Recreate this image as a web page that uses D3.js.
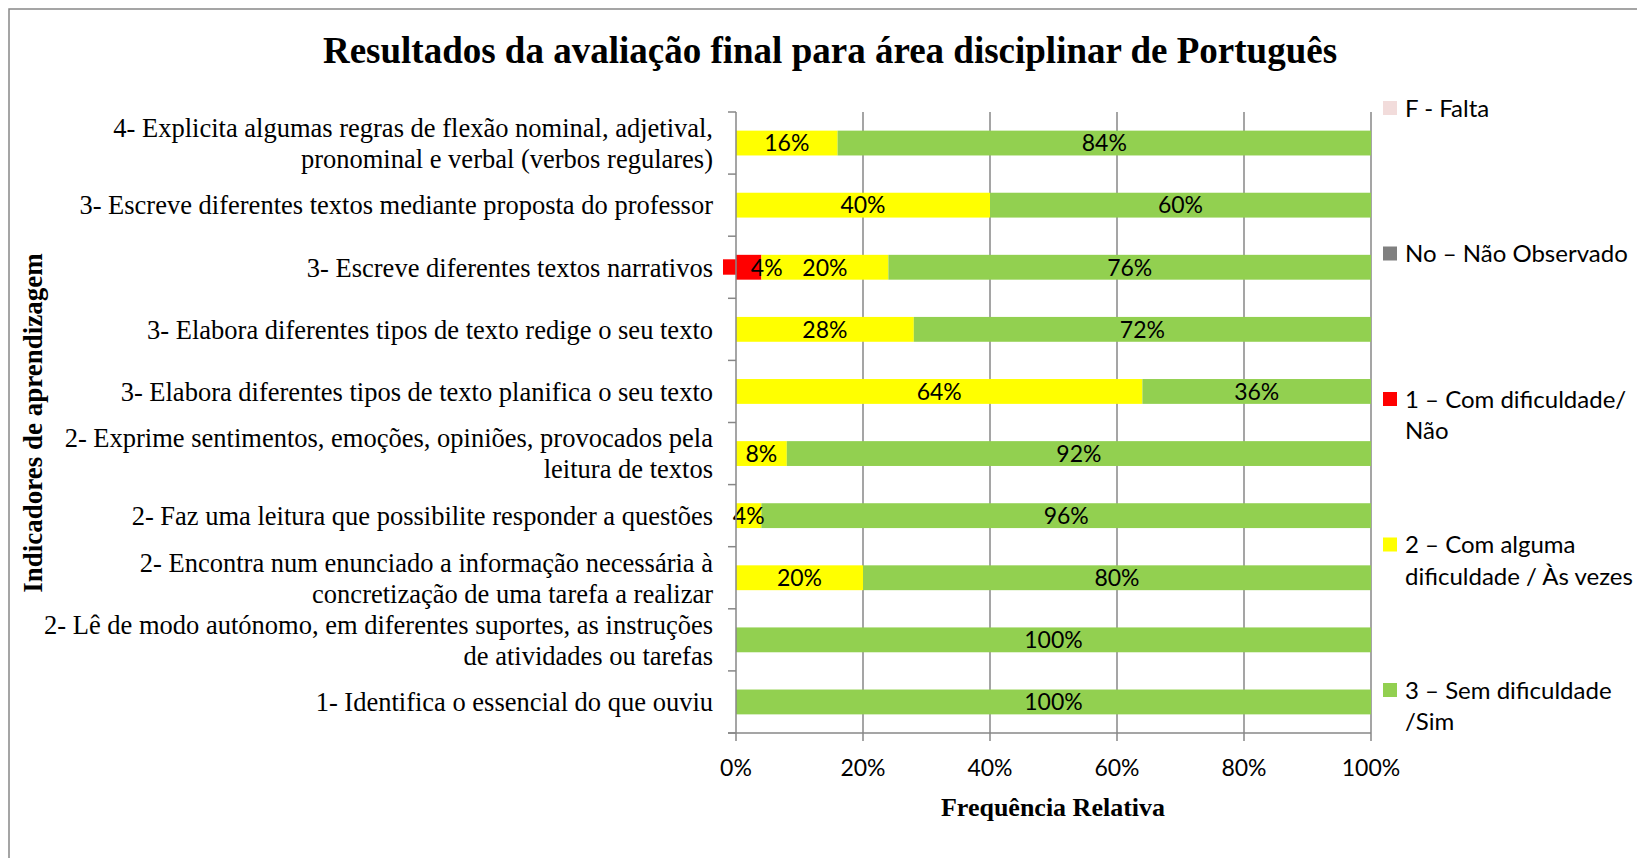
<!DOCTYPE html>
<html>
<head>
<meta charset="utf-8">
<script src="https://cdn.jsdelivr.net/npm/d3@7"></script>
<style>
body { margin:0; background:#fff; overflow:hidden; }
.cat { font-family:"Liberation Serif","Times New Roman",serif; font-size:26.5px; fill:#000; }
.num { font-family:Lato,"Open Sans",sans-serif; font-size:23px; fill:#000; }
.leg { font-family:Lato,"Open Sans",sans-serif; font-size:24px; fill:#000; }
.ttl { font-family:"Liberation Serif","Times New Roman",serif; font-weight:bold; fill:#000; }
</style>
</head>
<body>
<div id="chart"></div>
<script>
var categories = [
 "4- Explicita algumas regras de flexão nominal, adjetival,|pronominal e verbal (verbos regulares)",
 "3- Escreve diferentes textos mediante proposta do professor",
 "3- Escreve diferentes textos narrativos",
 "3- Elabora diferentes tipos de texto redige o seu texto",
 "3- Elabora diferentes tipos de texto planifica o seu texto",
 "2- Exprime sentimentos, emoções, opiniões, provocados pela|leitura de textos",
 "2- Faz uma leitura que possibilite responder a questões",
 "2- Encontra num enunciado a informação necessária à|concretização de uma tarefa a realizar",
 "2- Lê de modo autónomo, em diferentes suportes, as instruções|de atividades ou tarefas",
 "1- Identifica o essencial do que ouviu"
];
var falta     = [0, 0, 0, 0, 0, 0, 0, 0, 0, 0];
var naoObs    = [0, 0, 0, 0, 0, 0, 0, 0, 0, 0];
var comDif    = [0, 0, 4, 0, 0, 0, 0, 0, 0, 0];
var algumaDif = [16, 40, 20, 28, 64, 8, 4, 20, 0, 0];
var semDif    = [84, 60, 76, 72, 36, 92, 96, 80, 100, 100];
var seriesKeys = ["F", "No", "1", "2", "3"];
var seriesLabels = [
 ["F - Falta"],
 ["No – Não Observado"],
 ["1 – Com dificuldade/", "Não"],
 ["2 – Com alguma", "dificuldade / Às vezes"],
 ["3 – Sem dificuldade", "/Sim"]
];
var seriesColors = ["#f2dcdb", "#808080", "#ff0000", "#ffff00", "#92d050"];
var xTicks = [0, 20, 40, 60, 80, 100];

var W = 1637, H = 858;
var pLeft = 736, pRight = 1371, pTop = 112, pBottom = 733;

var table = categories.map(function(c, i) {
  return {cat: c, F: falta[i], No: naoObs[i], "1": comDif[i], "2": algumaDif[i], "3": semDif[i]};
});
var stacked = d3.stack().keys(seriesKeys)(table);

var svg = d3.select("#chart").append("svg").attr("width", W).attr("height", H);

svg.append("rect")
  .attr("x", 9).attr("y", 9)
  .attr("width", W + 20).attr("height", H + 20)
  .attr("style", "fill:#fff;stroke:#888;stroke-width:1.5");

var x = d3.scaleLinear().domain([0, 100]).range([pLeft, pRight]);
var y = d3.scaleBand().domain(categories).range([pTop, pBottom]).paddingInner(0.6).paddingOuter(0.3);
var color = d3.scaleOrdinal().domain(seriesKeys).range(seriesColors);

// vertical gridlines
svg.append("g").selectAll("line")
  .data(xTicks.slice(1))
  .enter().append("line")
  .attr("x1", function(d) { return x(d); })
  .attr("x2", function(d) { return x(d); })
  .attr("y1", pTop).attr("y2", pBottom)
  .attr("style", "stroke:#878787;stroke-width:1.5");

// bars
svg.append("g").selectAll("g")
  .data(stacked)
  .enter().append("g")
  .attr("fill", function(d) { return color(d.key); })
  .selectAll("rect")
  .data(function(d) { return d; })
  .enter().append("rect")
  .attr("x", function(d) { return x(d[0]); })
  .attr("y", function(d) { return y(d.data.cat); })
  .attr("width", function(d) { return x(d[1]) - x(d[0]); })
  .attr("height", y.bandwidth());

// the small red key sticking out left of the axis
svg.append("g").selectAll("rect")
  .data(table.filter(function(d) { return d["1"] > 0; }))
  .enter().append("rect")
  .attr("x", x(0) - 13)
  .attr("y", function(d) { return y(d.cat) + y.bandwidth() * 0.18; })
  .attr("width", 13)
  .attr("height", y.bandwidth() * 0.62)
  .attr("fill", color("1"));

// data labels (own layer so they sit above every bar)
svg.append("g").selectAll("g")
  .data(stacked)
  .enter().append("g")
  .each(function(s) {
    var dx = s.key == "1" ? 18 : 0;
    d3.select(this).selectAll("text")
      .data(s.filter(function(d) { return d[1] - d[0] > 0; }))
      .enter().append("text")
      .attr("class", "num")
      .attr("x", function(d) { return (x(d[0]) + x(d[1])) / 2 + dx; })
      .attr("y", function(d) { return y(d.data.cat) + y.bandwidth() / 2; })
      .attr("dy", "0.36em")
      .attr("text-anchor", "middle")
      .text(function(d) { return (d[1] - d[0]) + "%"; });
  });

// y axis
var yAxis = svg.append("g");
yAxis.append("line")
  .attr("x1", pLeft).attr("x2", pLeft).attr("y1", pTop).attr("y2", pBottom)
  .attr("style", "stroke:#878787;stroke-width:1.5");
yAxis.selectAll("line.tk")
  .data(d3.range(categories.length + 1))
  .enter().append("line")
  .attr("class", "tk")
  .attr("x1", pLeft - 8).attr("x2", pLeft)
  .attr("y1", function(i) { return pTop + i * y.step(); })
  .attr("y2", function(i) { return pTop + i * y.step(); })
  .attr("style", "stroke:#878787;stroke-width:1.5");

var catText = yAxis.selectAll("text")
  .data(categories)
  .enter().append("text")
  .attr("class", "cat")
  .attr("text-anchor", "end")
  .attr("y", function(d) { return y(d) + y.bandwidth() / 2; });
catText.each(function(d) {
  var lines = d.split("|");
  var t = d3.select(this);
  lines.forEach(function(l, j) {
    t.append("tspan")
      .attr("x", pLeft - 23)
      .attr("dy", j == 0 ? (0.35 - (lines.length - 1) * 0.585) + "em" : "1.17em")
      .text(l);
  });
});

// x axis
var xAxis = svg.append("g");
xAxis.append("line")
  .attr("x1", pLeft - 8).attr("x2", pRight).attr("y1", pBottom).attr("y2", pBottom)
  .attr("style", "stroke:#878787;stroke-width:1.5");
xAxis.selectAll("line.tk")
  .data(xTicks)
  .enter().append("line")
  .attr("class", "tk")
  .attr("x1", function(d) { return x(d); })
  .attr("x2", function(d) { return x(d); })
  .attr("y1", pBottom).attr("y2", pBottom + 8)
  .attr("style", "stroke:#878787;stroke-width:1.5");
xAxis.selectAll("text")
  .data(xTicks)
  .enter().append("text")
  .attr("class", "num")
  .attr("x", function(d) { return x(d); })
  .attr("y", 776)
  .attr("text-anchor", "middle")
  .text(function(d) { return d + "%"; });

// titles
svg.append("text")
  .attr("class", "ttl")
  .attr("x", 830).attr("y", 63)
  .attr("text-anchor", "middle")
  .attr("style", "font-size:37px")
  .text("Resultados da avaliação final para área disciplinar de Português");

svg.append("text")
  .attr("class", "ttl")
  .attr("x", 1053).attr("y", 816)
  .attr("text-anchor", "middle")
  .attr("style", "font-size:26px")
  .text("Frequência Relativa");

svg.append("text")
  .attr("class", "ttl")
  .attr("transform", "translate(42,423) rotate(-90)")
  .attr("text-anchor", "middle")
  .attr("style", "font-size:27px")
  .text("Indicadores de aprendizagem");

// legend
var legend = svg.append("g").selectAll("g")
  .data(seriesKeys)
  .enter().append("g")
  .attr("transform", function(d, i) { return "translate(1383," + (108 + i * 145.5) + ")"; });
legend.append("rect")
  .attr("x", 0).attr("y", -7)
  .attr("width", 14).attr("height", 14)
  .attr("fill", function(d) { return color(d); });
legend.append("text")
  .attr("class", "leg")
  .selectAll("tspan")
  .data(function(d, i) { return seriesLabels[i]; })
  .enter().append("tspan")
  .attr("x", 22)
  .attr("y", function(d, j) { return j * 31.5; })
  .attr("dy", "0.36em")
  .text(function(d) { return d; });
</script>
</body>
</html>
